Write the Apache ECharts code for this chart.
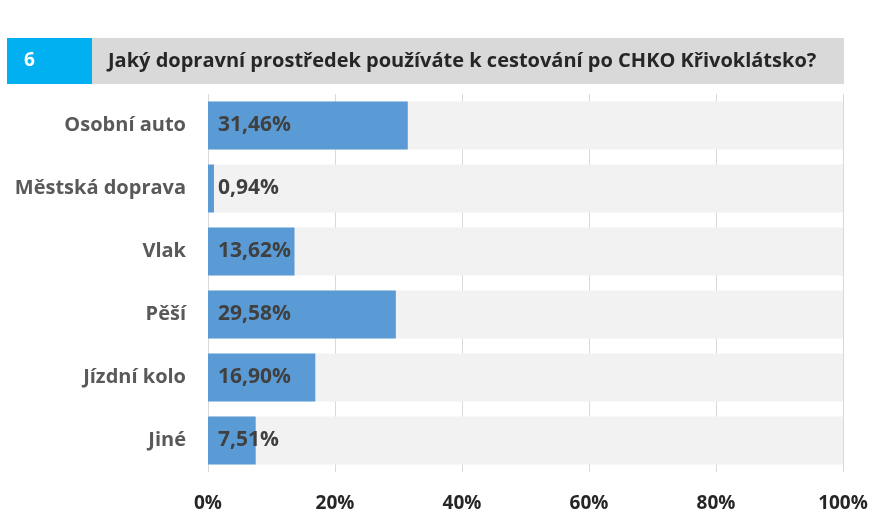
<!DOCTYPE html>
<html><head><meta charset="utf-8">
<script src="https://cdn.jsdelivr.net/npm/echarts@6/dist/echarts.min.js"></script>
<style>html,body{margin:0;padding:0;background:#fff}#c{width:872px;height:516px}</style>
</head><body><div id="c"></div>
<script>
const questionNumber = '6';
const questionTitle = 'Jaký dopravní prostředek používáte k cestování po CHKO Křivoklátsko?';
const categories = ['Osobní auto', 'Městská doprava', 'Vlak', 'Pěší', 'Jízdní kolo', 'Jiné'];
const values = [31.46, 0.94, 13.62, 29.58, 16.90, 7.51];
const tickLabels = ['0%', '20%', '40%', '60%', '80%', '100%'];

const font = 'Open Sans';
const chart = echarts.init(document.getElementById('c'), null, {renderer: 'canvas'});
chart.setOption({
  animation: false,
  backgroundColor: '#fff',
  graphic: [
    {type: 'rect', shape: {x: 92, y: 38, width: 752, height: 46}, style: {fill: '#d9d9d9'}},
    {type: 'rect', shape: {x: 7, y: 38, width: 85, height: 46}, style: {fill: '#00b0f0'}},
    {type: 'text', x: 24, y: 61, style: {text: questionNumber, fill: '#fff', font: 'bold 19px "' + font + '"', textVerticalAlign: 'middle'}},
    {type: 'text', x: 108, y: 61, style: {text: questionTitle, fill: '#262626', font: 'bold 20px "' + font + '"', textVerticalAlign: 'middle'}}
  ],
  grid: {left: 208, right: 29, top: 94, bottom: 44, containLabel: false},
  xAxis: {
    type: 'value', min: 0, max: 100, interval: 20,
    axisLine: {show: false}, axisTick: {show: false},
    splitLine: {show: true, lineStyle: {color: '#d9d9d9', width: 1}},
    axisLabel: {
      margin: 22, color: '#262626', fontFamily: font, fontWeight: 'bold', fontSize: 19,
      formatter: v => tickLabels[Math.round(v / 20)]
    }
  },
  yAxis: {
    type: 'category', data: categories, inverse: true,
    axisLine: {show: false}, axisTick: {show: false},
    axisLabel: {margin: 22, color: '#595959', fontFamily: font, fontWeight: 'bold', fontSize: 20}
  },
  series: [{
    type: 'bar', data: values, barWidth: 48,
    itemStyle: {color: '#5b9bd5'},
    showBackground: true,
    backgroundStyle: {color: '#f2f2f2'},
    label: {
      show: true, position: 'insideLeft', offset: [5, 0], color: '#404040',
      fontFamily: font, fontWeight: 'bold', fontSize: 21,
      formatter: p => p.value.toFixed(2).replace('.', ',') + '%'
    }
  }]
});
</script></body></html>
